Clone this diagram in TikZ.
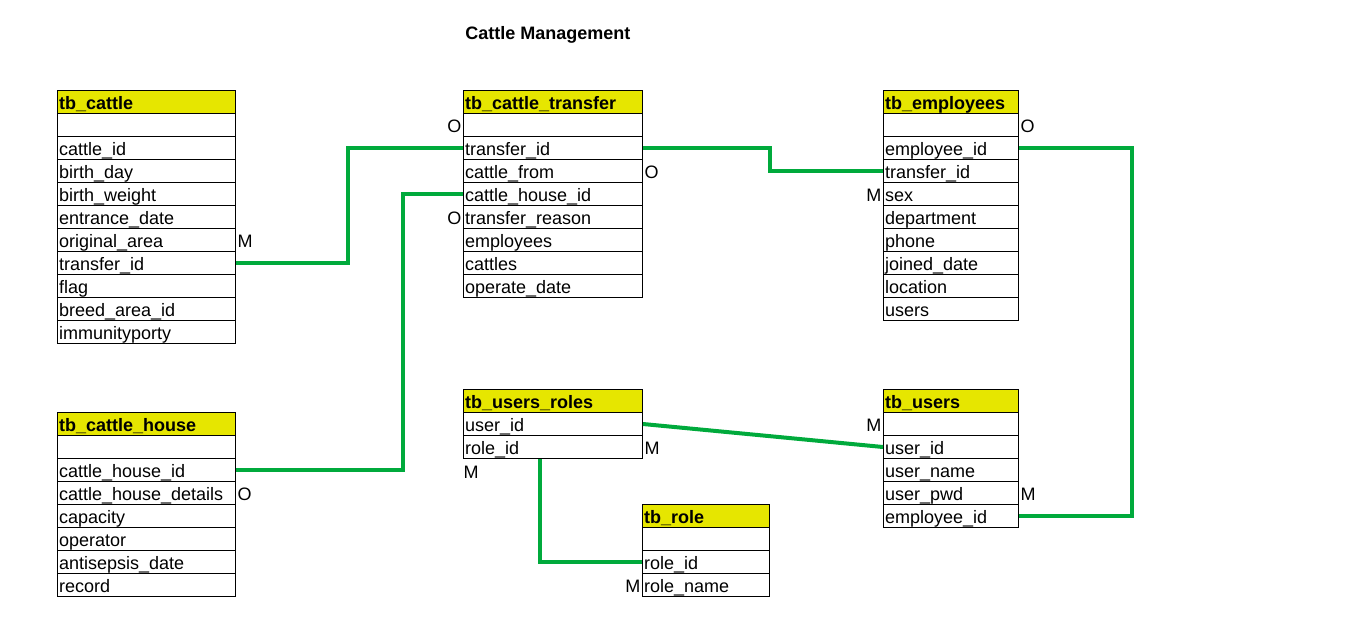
\documentclass[tikz,border=0pt]{standalone}
\usepackage{fontspec}
\setmainfont{Liberation Sans}
\usetikzlibrary{positioning}

\definecolor{headyellow}{RGB}{230,230,0}
\definecolor{linkgreen}{RGB}{0,170,60}

\tikzset{
  field/.style={draw, line width=0.75pt, anchor=north west, inner xsep=1.2pt,
    inner ysep=0pt, text height=14.5pt, text depth=2.75pt, align=left,
    font=\fontsize{13.5}{16}\selectfont},
  head/.style={field, fill=headyellow, font=\bfseries\fontsize{13.5}{16}\selectfont},
  wcattle/.style={text width=131.1pt},
  wtransfer/.style={text width=131.85pt},
  wnarrow/.style={text width=98.85pt},
  wrole/.style={text width=92.85pt},
  card/.style={inner xsep=1pt, inner ysep=0pt, text height=14.5pt, text depth=2.75pt,
    font=\fontsize{13.5}{16}\selectfont},
  link/.style={draw=linkgreen, line width=3pt}
}

\begin{document}
\begin{tikzpicture}[x=0.75pt,y=-0.75pt]
\useasboundingbox (0,0) rectangle (1359,639);

\node [anchor=base west,inner sep=0pt,font=\bfseries\fontsize{13.5}{16}\selectfont]
      (title) at (465,39.5) {Cattle Management};

% tb_cattle
\node [head,wcattle]  (c-head)     at (57, 90) {tb\_cattle};
\node [field,wcattle] (c-blank)    at (57,113) {};
\node [field,wcattle] (c-id)       at (57,136) {cattle\_id};
\node [field,wcattle] (c-day)      at (57,159) {birth\_day};
\node [field,wcattle] (c-weight)   at (57,182) {birth\_weight};
\node [field,wcattle] (c-entrance) at (57,205) {entrance\_date};
\node [field,wcattle] (c-area)     at (57,228) {original\_area};
\node [field,wcattle] (c-transfer) at (57,251) {transfer\_id};
\node [field,wcattle] (c-flag)     at (57,274) {flag};
\node [field,wcattle] (c-breed)    at (57,297) {breed\_area\_id};
\node [field,wcattle] (c-immunity) at (57,320) {immunityporty};

% tb_cattle_transfer
\node [head,wtransfer]  (ct-head)     at (463, 90) {tb\_cattle\_transfer};
\node [field,wtransfer] (ct-blank)    at (463,113) {};
\node [field,wtransfer] (ct-transfer) at (463,136) {transfer\_id};
\node [field,wtransfer] (ct-from)     at (463,159) {cattle\_from};
\node [field,wtransfer] (ct-house)    at (463,182) {cattle\_house\_id};
\node [field,wtransfer] (ct-reason)   at (463,205) {transfer\_reason};
\node [field,wtransfer] (ct-emp)      at (463,228) {employees};
\node [field,wtransfer] (ct-cattles)  at (463,251) {cattles};
\node [field,wtransfer] (ct-date)     at (463,274) {operate\_date};

% tb_employees
\node [head,wnarrow]  (e-head)     at (883, 90) {tb\_employees};
\node [field,wnarrow] (e-blank)    at (883,113) {};
\node [field,wnarrow] (e-empid)    at (883,136) {employee\_id};
\node [field,wnarrow] (e-transfer) at (883,159) {transfer\_id};
\node [field,wnarrow] (e-sex)      at (883,182) {sex};
\node [field,wnarrow] (e-dept)     at (883,205) {department};
\node [field,wnarrow] (e-phone)    at (883,228) {phone};
\node [field,wnarrow] (e-joined)   at (883,251) {joined\_date};
\node [field,wnarrow] (e-location) at (883,274) {location};
\node [field,wnarrow] (e-users)    at (883,297) {users};

% tb_cattle_house
\node [head,wcattle]  (ch-head)     at (57,412) {tb\_cattle\_house};
\node [field,wcattle] (ch-blank)    at (57,435) {};
\node [field,wcattle] (ch-houseid)  at (57,458) {cattle\_house\_id};
\node [field,wcattle] (ch-details)  at (57,481) {cattle\_house\_details};
\node [field,wcattle] (ch-capacity) at (57,504) {capacity};
\node [field,wcattle] (ch-operator) at (57,527) {operator};
\node [field,wcattle] (ch-date)     at (57,550) {antisepsis\_date};
\node [field,wcattle] (ch-record)   at (57,573) {record};

% tb_users_roles
\node [head,wtransfer]  (ur-head)   at (463,389) {tb\_users\_roles};
\node [field,wtransfer] (ur-userid) at (463,412) {user\_id};
\node [field,wtransfer] (ur-roleid) at (463,435) {role\_id};

% tb_users
\node [head,wnarrow]  (u-head)   at (883,389) {tb\_users};
\node [field,wnarrow] (u-blank)  at (883,412) {};
\node [field,wnarrow] (u-userid) at (883,435) {user\_id};
\node [field,wnarrow] (u-name)   at (883,458) {user\_name};
\node [field,wnarrow] (u-pwd)    at (883,481) {user\_pwd};
\node [field,wnarrow] (u-empid)  at (883,504) {employee\_id};

% tb_role
\node [head,wrole]  (r-head)   at (642,504) {tb\_role};
\node [field,wrole] (r-blank)  at (642,527) {};
\node [field,wrole] (r-roleid) at (642,550) {role\_id};
\node [field,wrole] (r-name)   at (642,573) {role\_name};

% cardinalities
\node [card,anchor=west] (c-area-m)     at (c-area.east)    {M};
\node [card,anchor=east] (ct-blank-o)   at (ct-blank.west)  {O};
\node [card,anchor=east] (ct-reason-o)  at (ct-reason.west) {O};
\node [card,anchor=west] (ct-from-o)    at (ct-from.east)   {O};
\node [card,anchor=east] (e-sex-m)      at (e-sex.west)     {M};
\node [card,anchor=west] (e-blank-o)    at (e-blank.east)   {O};
\node [card,anchor=west] (ch-details-o) at (ch-details.east) {O};
\node [card,anchor=west] (ur-roleid-m)  at (ur-roleid.east) {M};
\node [card,anchor=north west,inner xsep=0.3pt] (ur-below-m) at (ur-roleid.south west) {M};
\node [card,anchor=east] (u-blank-m)    at (u-blank.west)   {M};
\node [card,anchor=west] (u-pwd-m)      at (u-pwd.east)     {M};
\node [card,anchor=east] (r-name-m)     at (r-name.west)    {M};

% relations
\draw [link] (c-transfer.east) -- ++(112,0) |- (ct-transfer.west);
\draw [link] (ch-houseid.east) -- ++(167,0) |- (ct-house.west);
\draw [link] (ct-transfer.east) -- ++(127,0) |- (e-transfer.west);
\draw [link] (e-empid.east) -- ++(113,0) |- (u-empid.east);
\draw [link] (ur-userid.east) -- (u-userid.west);
\draw [link] ([xshift=-9.4pt]ur-roleid.south) |- (r-roleid.west);
\end{tikzpicture}
\end{document}
